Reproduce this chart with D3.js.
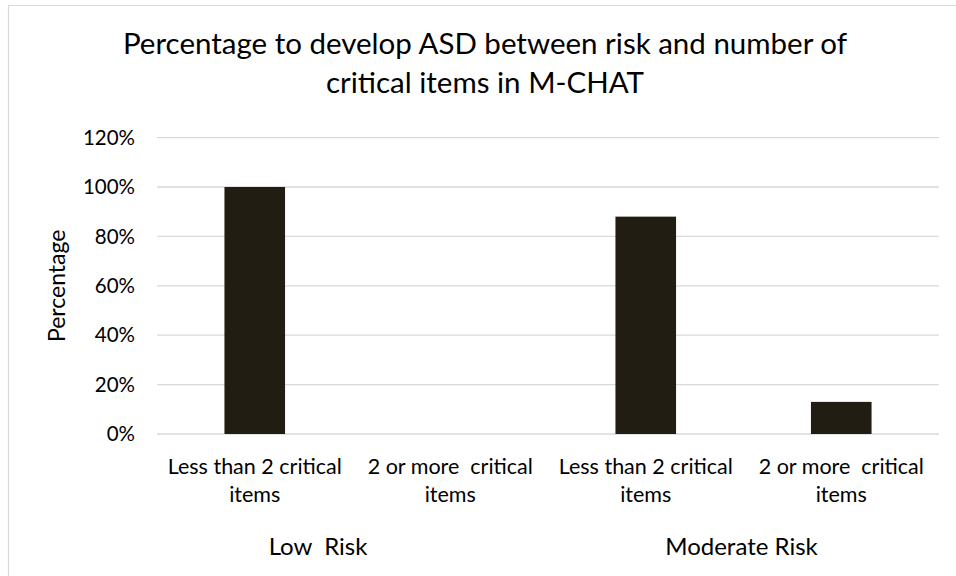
<!DOCTYPE html>
<html>
<head>
<meta charset="utf-8">
<script src="https://cdn.jsdelivr.net/npm/d3@7"></script>
<style>
  body { margin: 0; background: #fff; }
  svg text { font-family: Lato, "Open Sans", sans-serif; fill: #000; }
</style>
</head>
<body>
<svg id="chart" width="956" height="576"></svg>
<script>
// data
const groups = ['Low  Risk', 'Moderate Risk'];
const categories = ['Less than 2 critical items', '2 or more  critical items',
                    'Less than 2 critical items ', '2 or more  critical items '];
const catGroup = [0, 0, 1, 1];
const catLines = [['Less than 2 critical', 'items'], ['2 or more  critical', 'items'],
                  ['Less than 2 critical', 'items'], ['2 or more  critical', 'items']];
const values = [100, 0, 88, 13];
const yTicks = [0, 20, 40, 60, 80, 100, 120];
const titleLines = ['Percentage to develop ASD between risk and number of', 'critical items in M-CHAT'];

const margin = {left: 157, right: 17, top: 137.6};
const W = 956, H = 576;
const baseY = 434;

const svg = d3.select('#chart');

// outer chart border (only top and left show in the crop)
svg.append('path')
  .attr('d', `M8.5,${H} V5.5 H${W}`)
  .attr('fill', 'none')
  .attr('stroke', '#d9d9d9')
  .attr('stroke-width', 1.2);

const x = d3.scaleBand()
  .domain(categories)
  .range([margin.left, W - margin.right])
  .padding(0);

const y = d3.scaleLinear()
  .domain([0, 120])
  .range([baseY, margin.top]);

// gridlines
svg.append('g')
  .selectAll('line')
  .data(yTicks)
  .enter().append('line')
    .attr('x1', margin.left)
    .attr('x2', W - margin.right)
    .attr('y1', d => y(d))
    .attr('y2', d => y(d))
    .attr('stroke', '#d9d9d9')
    .attr('stroke-width', 1.3);

// y tick labels
svg.append('g')
  .selectAll('text')
  .data(yTicks)
  .enter().append('text')
    .attr('x', margin.left - 22)
    .attr('y', d => y(d))
    .attr('dy', '0.35em')
    .attr('text-anchor', 'end')
    .style('font-size', '20.5px')
    .text(d => d + '%');

// bars
const barW = x.bandwidth() * 0.31;
svg.append('g')
  .selectAll('rect')
  .data(values)
  .enter().append('rect')
    .attr('x', (d, i) => x(categories[i]) + (x.bandwidth() - barW) / 2)
    .attr('y', d => y(d))
    .attr('width', barW)
    .attr('height', d => y(0) - y(d))
    .attr('fill', '#211d12');

// category labels, two lines each
const cat = svg.append('g')
  .selectAll('text')
  .data(catLines)
  .enter().append('text')
    .attr('text-anchor', 'middle')
    .attr('transform', (d, i) => `translate(${x(categories[i]) + x.bandwidth() / 2},474)`)
    .style('font-size', '21.5px')
    .style('white-space', 'pre');
cat.selectAll('tspan')
  .data(d => d)
  .enter().append('tspan')
    .attr('x', 0)
    .attr('dy', (d, i) => i === 0 ? 0 : 28)
    .text(d => d);

// group labels
const groupOffset = [-34.5, -2];
svg.append('g')
  .selectAll('text')
  .data(groups)
  .enter().append('text')
    .attr('text-anchor', 'middle')
    .attr('x', (g, gi) => {
      const cs = categories.filter((c, i) => catGroup[i] === gi);
      return (x(cs[0]) + x(cs[cs.length - 1]) + x.bandwidth()) / 2 + groupOffset[gi];
    })
    .attr('y', 555)
    .style('font-size', '24px')
    .style('white-space', 'pre')
    .text(d => d);

// axis title
svg.append('text')
  .attr('transform', `translate(65,${(y(0) + y(120)) / 2}) rotate(-90)`)
  .attr('text-anchor', 'middle')
  .style('font-size', '23px')
  .text('Percentage');

// chart title
svg.append('g')
  .selectAll('text')
  .data(titleLines)
  .enter().append('text')
    .attr('x', 485)
    .attr('y', (d, i) => 54 + i * 39)
    .attr('text-anchor', 'middle')
    .style('font-size', '29.5px')
    .text(d => d);
</script>
</body>
</html>
